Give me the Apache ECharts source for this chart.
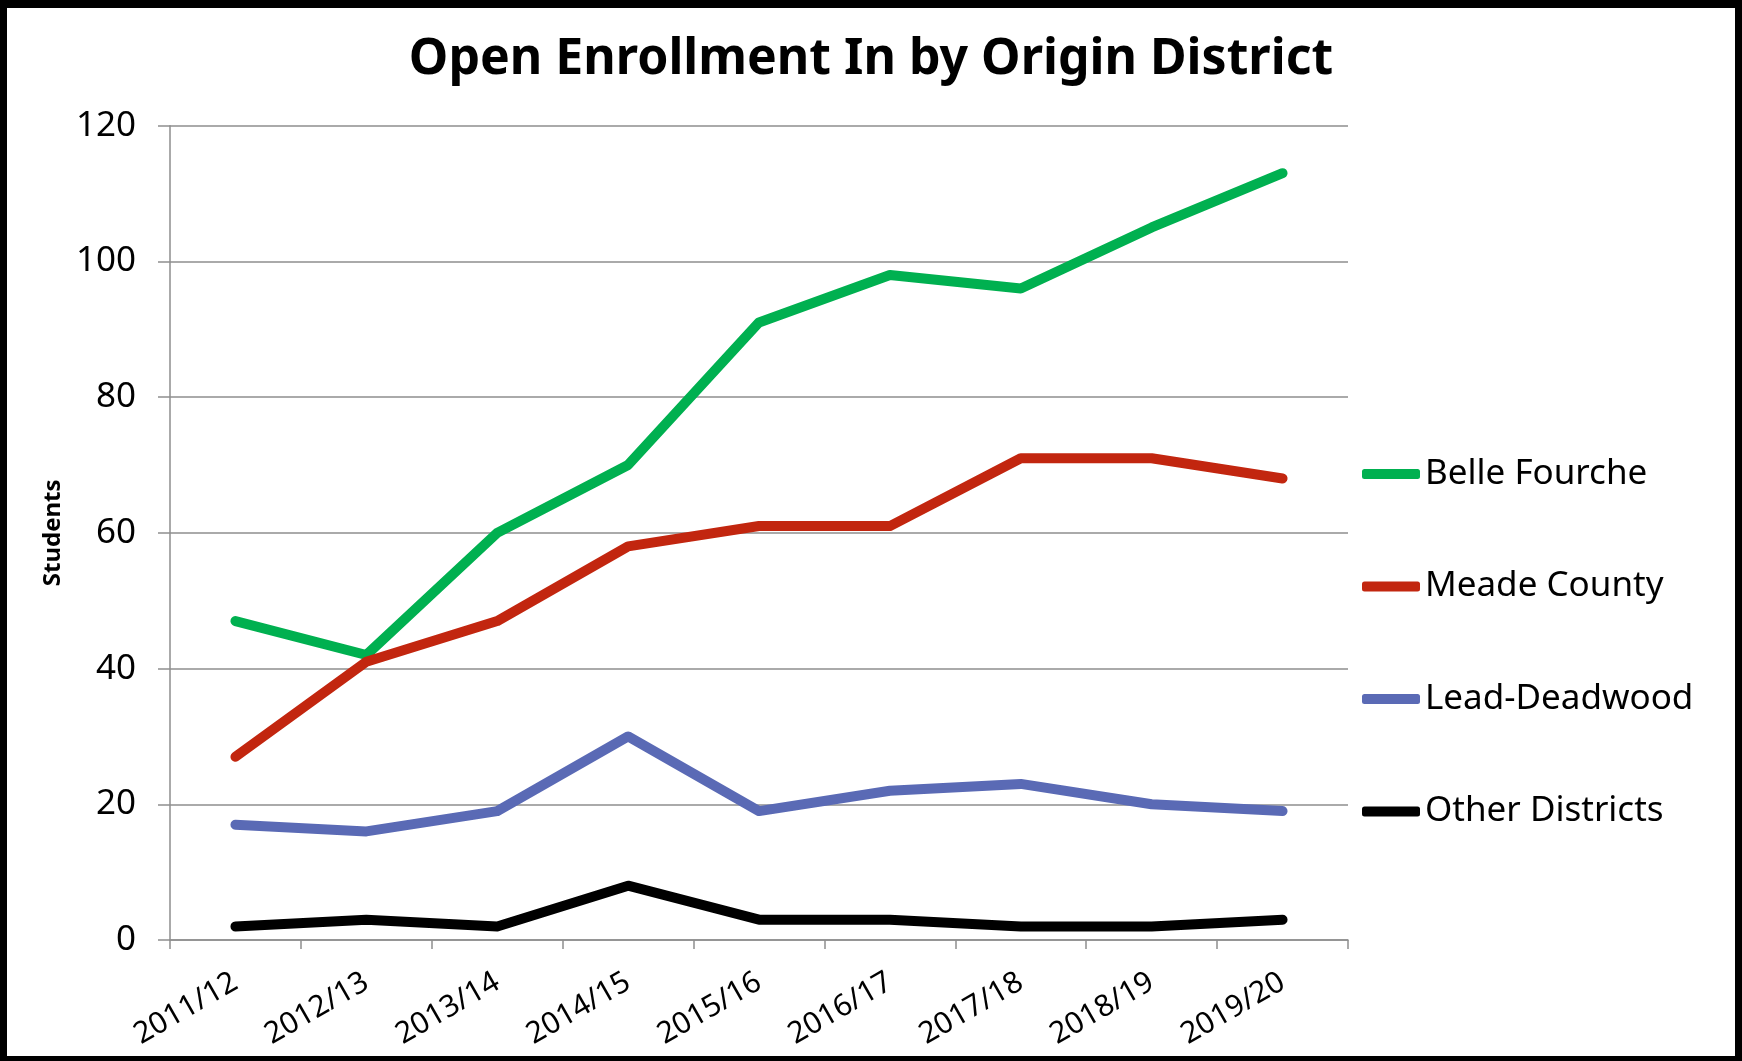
<!DOCTYPE html>
<html>
<head>
<meta charset="utf-8">
<script src="https://cdn.jsdelivr.net/npm/echarts@6/dist/echarts.min.js"></script>
<style>
html,body{margin:0;padding:0;background:#fff;}
#chart{position:absolute;left:0;top:0;width:1742px;height:1061px;}
#frame{position:absolute;left:0;top:0;width:1742px;height:1061px;box-sizing:border-box;border-style:solid;border-color:#000;border-width:8px 7px 5px 7px;pointer-events:none;}
</style>
</head>
<body>
<div id="chart"></div>
<div id="frame"></div>
<script>
var categories = ["2011/12","2012/13","2013/14","2014/15","2015/16","2016/17","2017/18","2018/19","2019/20"];
var belleFourche = [47, 42, 60, 70, 91, 98, 96, 105, 113];
var meadeCounty = [27, 41, 47, 58, 61, 61, 71, 71, 68];
var leadDeadwood = [17, 16, 19, 30, 19, 22, 23, 20, 19];
var otherDistricts = [2, 3, 2, 8, 3, 3, 2, 2, 3];
var seriesNames = ["Belle Fourche","Meade County","Lead-Deadwood","Other Districts"];
var seriesColors = ["#00B050","#C2260F","#5A6AB5","#000000"];
var yTicks = [0, 20, 40, 60, 80, 100, 120];

var FONT = "'Noto Sans', sans-serif";
var chart = echarts.init(document.getElementById('chart'), null, {renderer:'canvas'});
var dataSets = [belleFourche, meadeCounty, leadDeadwood, otherDistricts];
var series = dataSets.map(function(d, i){
  return {
    name: seriesNames[i], type: 'line', data: d, symbol: 'none',
    lineStyle: {width: 10, color: seriesColors[i], cap: 'round', join: 'round'},
    itemStyle: {color: seriesColors[i]},
    emphasis: {disabled: true}
  };
});
chart.setOption({
  animation: false,
  backgroundColor: '#ffffff',
  title: {
    text: 'Open Enrollment In by Origin District',
    left: 'center', top: 30,
    textStyle: {fontFamily: FONT, fontSize: 50, fontWeight: 'bold', color: '#000'}
  },
  legend: {
    orient: 'vertical', left: 1362, top: 452, padding: 0,
    itemWidth: 58, itemHeight: 10, itemGap: 68.5,
    icon: 'roundRect',
    data: seriesNames,
    textStyle: {fontFamily: FONT, fontSize: 35, color: '#000', lineHeight: 44}
  },
  grid: {left: 170, right: 394, top: 125.7, bottom: 121, containLabel: false},
  xAxis: {
    type: 'category', data: categories, boundaryGap: true,
    axisLine: {lineStyle: {color: '#8E8E8E', width: 1.5}},
    axisTick: {show: true, length: 9, alignWithLabel: false, lineStyle: {color: '#8E8E8E', width: 1.5}},
    axisLabel: {rotate: 30, margin: 40, fontFamily: FONT, fontSize: 30, color: '#000', interval: 0},
    splitLine: {show: false}
  },
  yAxis: {
    type: 'value', min: yTicks[0], max: yTicks[yTicks.length-1], interval: 20,
    name: 'Students', nameLocation: 'middle', nameGap: 104,
    nameTextStyle: {fontFamily: FONT, fontSize: 24, fontWeight: 'bold', color: '#000'},
    axisLine: {show: true, lineStyle: {color: '#8E8E8E', width: 1.5}},
    axisTick: {show: true, length: 12, lineStyle: {color: '#8E8E8E', width: 1.5}},
    axisLabel: {margin: 34, fontFamily: FONT, fontSize: 35, color: '#000'},
    splitLine: {show: true, lineStyle: {color: '#8E8E8E', width: 1.5}}
  },
  series: series
});
</script>
</body>
</html>
